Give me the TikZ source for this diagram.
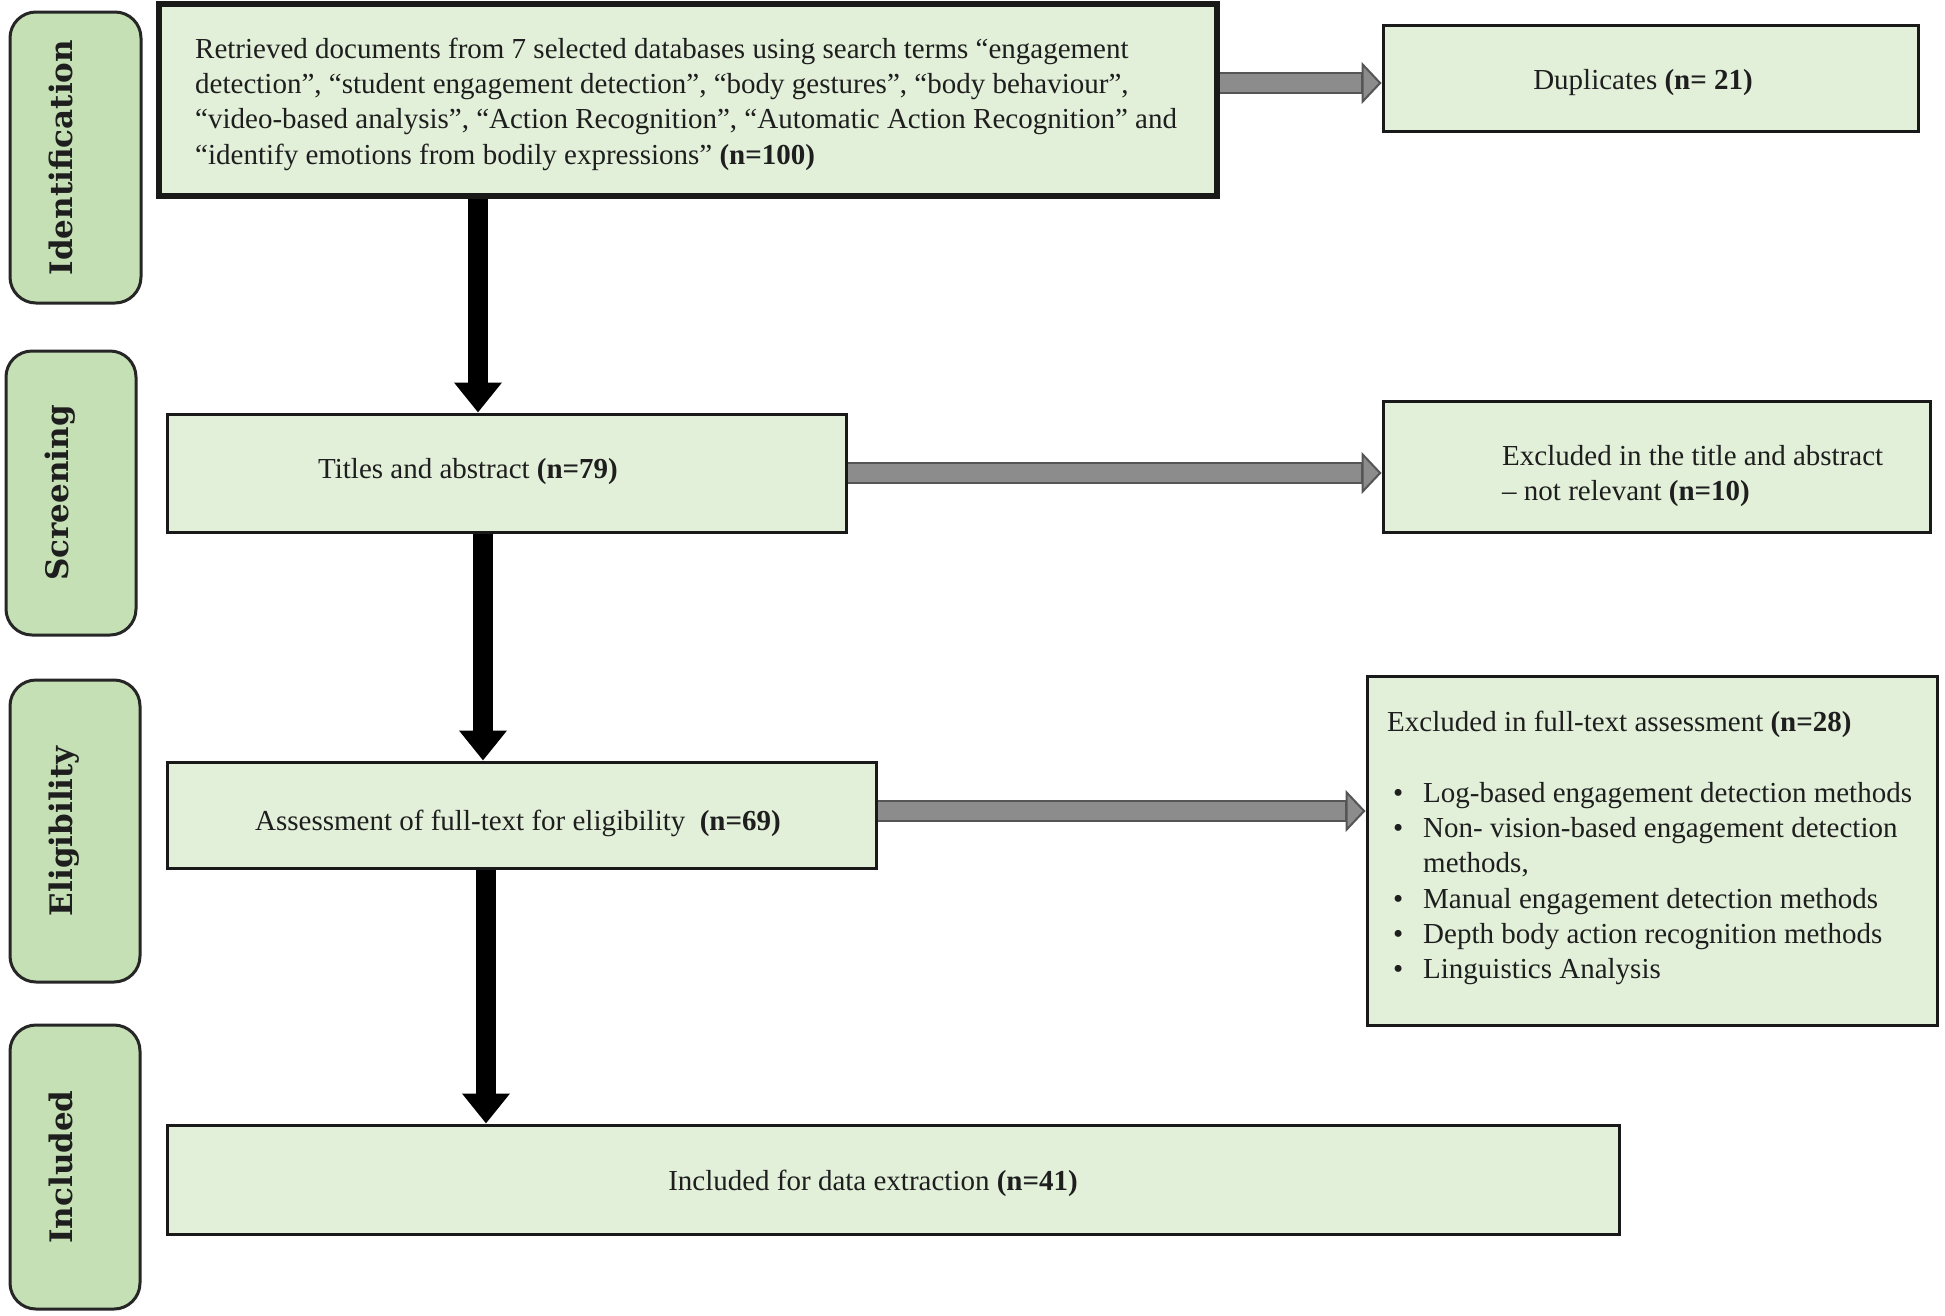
\documentclass[tikz,border=0pt]{standalone}
\usepackage{fontspec}
\setmainfont{Liberation Serif}
\newfontfamily\pillfont{DejaVu Serif}
\usetikzlibrary{arrows.meta,calc}
\definecolor{boxfill}{HTML}{E2EFD9}
\definecolor{pillfill}{HTML}{C5E0B4}
\definecolor{arrgray}{HTML}{8C8C8C}
\definecolor{arrdark}{HTML}{555555}
\definecolor{txtcol}{HTML}{1E1E1E}
\tikzset{
  stagebox/.style={draw=black!90, line width=3pt, fill=boxfill, inner sep=0pt},
  pill/.style={draw=black!85, line width=3pt, fill=pillfill, rounded corners=26pt, inner sep=0pt},
  pilltext/.style={rotate=90, anchor=base, text=txtcol, inner sep=0pt, font=\pillfont\bfseries\fontsize{31}{36}\selectfont},
  txt/.style={text=txtcol, inner sep=0pt, align=left, font=\fontsize{29}{35.3}\selectfont},
  blackarrow/.style={line width=20pt, draw=black, -{Triangle[length=30pt,width=46pt]}},
  grayouter/.style={line width=22pt, draw=arrdark, -{Triangle[length=20pt,width=42pt,fill=arrgray,line width=2pt]}},
  grayinner/.style={line width=18pt, draw=arrgray, shorten >=21pt},
}
\begin{document}
\begin{tikzpicture}[x=1pt,y=-1pt]
\useasboundingbox[fill=white] (0,0) rectangle (1945,1315);

% stage pills
\node[pill, minimum width=131pt, minimum height=291pt] (p1) at (75.5,157.5) {};
\node[pill, minimum width=130pt, minimum height=284pt] (p2) at (71,493) {};
\node[pill, minimum width=130pt, minimum height=302pt] (p3) at (75,831) {};
\node[pill, minimum width=130pt, minimum height=284pt] (p4) at (75,1167) {};
\node[pilltext] (p1t) at (72,157.5) {Identification};
\node[pilltext] (p2t) at (68,493) {Screening};
\node[pilltext] (p3t) at (72,831) {Eligibility};
\node[pilltext] (p4t) at (72,1167) {Included};

% boxes
\node[stagebox, line width=6pt, minimum width=1058pt, minimum height=192pt] (ret) at (688,100) {};
\node[stagebox, minimum width=535pt, minimum height=106pt] (dup) at (1650.5,78) {};
\node[stagebox, minimum width=679pt, minimum height=118pt] (tit) at (506.5,473) {};
\node[stagebox, minimum width=547pt, minimum height=131pt] (exT) at (1656.5,466.5) {};
\node[stagebox, minimum width=709pt, minimum height=106pt] (ass) at (521.5,815) {};
\node[stagebox, minimum width=570pt, minimum height=349pt] (exF) at (1652,850.5) {};
\node[stagebox, minimum width=1452pt, minimum height=109pt] (inc) at (893,1179.5) {};

% texts
\node[txt, anchor=west] (retT) at (195,104) {Retrieved documents from 7 selected databases using search terms “engagement\\
detection”, “student engagement detection”, “body gestures”, “body behaviour”,\\
“video-based analysis”, “Action Recognition”, “Automatic Action Recognition” and\\
“identify emotions from bodily expressions” \textbf{(n=100)}};
\node[txt] (dupT) at (1643,83) {Duplicates \textbf{(n= 21)}};
\node[txt] (titT) at (468,472) {Titles and abstract \textbf{(n=79)}};
\node[txt, anchor=west] (exTT) at (1502,476) {Excluded in the title and abstract\\– not relevant \textbf{(n=10)}};
\node[txt] (assT) at (518,823) {Assessment of full-text for eligibility\ \ \textbf{(n=69)}};
\node[txt, anchor=west] (exFT) at (1387,848) {Excluded in full-text assessment \textbf{(n=28)}\\[35.3pt]
\hspace*{6pt}\makebox[30pt][l]{•}Log-based engagement detection methods\\
\hspace*{6pt}\makebox[30pt][l]{•}Non- vision-based engagement detection\\
\hspace*{36pt}methods,\\
\hspace*{6pt}\makebox[30pt][l]{•}Manual engagement detection methods\\
\hspace*{6pt}\makebox[30pt][l]{•}Depth body action recognition methods\\
\hspace*{6pt}\makebox[30pt][l]{•}Linguistics Analysis};
\node[txt] (incT) at (873,1183) {Included for data extraction \textbf{(n=41)}};

% black arrows
\draw[blackarrow] (478,0 |- ret.south) -- (478,0 |- tit.north);
\draw[blackarrow] (483,0 |- tit.south) -- (483,0 |- ass.north);
\draw[blackarrow] (486,0 |- ass.south) -- (486,0 |- inc.north);

% gray arrows
\draw[grayouter] (ret.east |- 0,83) -- (dup.west |- 0,83);
\draw[grayinner] (ret.east |- 0,83) -- (dup.west |- 0,83);
\draw[grayouter] (tit.east |- 0,473) -- (exT.west |- 0,473);
\draw[grayinner] (tit.east |- 0,473) -- (exT.west |- 0,473);
\draw[grayouter] (ass.east |- 0,811) -- (exF.west |- 0,811);
\draw[grayinner] (ass.east |- 0,811) -- (exF.west |- 0,811);
\end{tikzpicture}
\end{document}
